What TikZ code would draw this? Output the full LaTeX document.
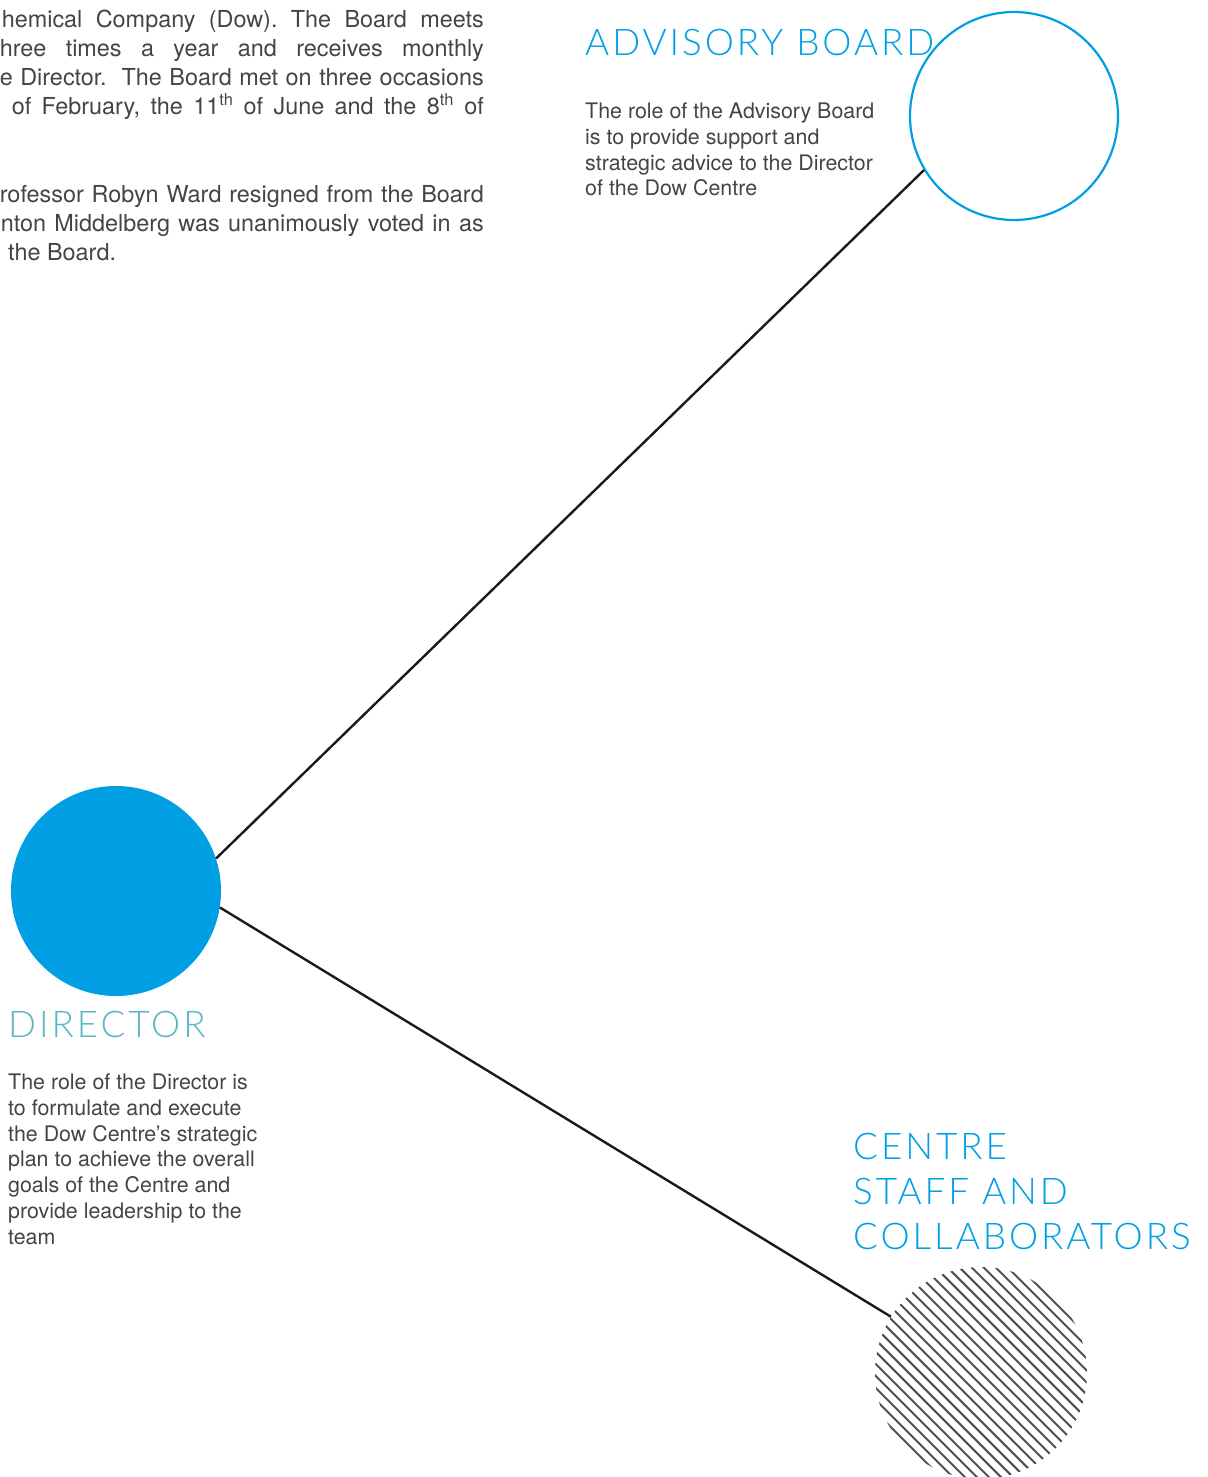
\documentclass[tikz,border=0pt]{standalone}
\usepackage{fontspec}
\newfontfamily\headfont{Lato Light}[LetterSpace=8]
\newfontfamily\bodyfont{TeX Gyre Heros}
\usetikzlibrary{calc}
\frenchspacing
\definecolor{dowblue}{HTML}{009FE3}
\definecolor{dirteal}{HTML}{5AB6C9}
\definecolor{txtgray}{HTML}{444444}
\definecolor{hatchgray}{HTML}{505050}
\definecolor{linedark}{HTML}{1A1A1A}
\tikzset{
  headtxt/.style={anchor=base west, inner sep=0pt, text=dowblue, font=\headfont\fontsize{36.8}{45}\selectfont},
  bodytxt/.style={anchor=base west, inner sep=0pt, text=txtgray, font=\bodyfont\fontsize{21.4}{25.7}\selectfont, align=left},
  paratxt/.style={anchor=base east, inner sep=0pt, text=txtgray, font=\bodyfont\fontsize{23.4}{29}\selectfont},
  conn/.style={draw=linedark, line width=2.4pt},
  hatchline/.style={draw=hatchgray, line width=2pt}
}
\begin{document}
\begin{tikzpicture}[x=1pt,y=-1pt]
\useasboundingbox (0,0) rectangle (1207,1477);
% top-left paragraph
\node[paratxt] (p1) at (484,28) {\makebox[482pt][s]{hemical Company (Dow). The Board meets}};
\node[paratxt] (p2) at (484,57) {\makebox[484pt][s]{hree times a year and receives monthly}};
\node[paratxt] (p3) at (484,86) {\makebox[484pt][s]{e Director.\ \ The Board met on three occasions}};
\node[paratxt] (p4) at (484,115) {\makebox[472pt][s]{of February, the 11\textsuperscript{th} of June and the 8\textsuperscript{th} of}};
\node[paratxt] (p5) at (484,202) {\makebox[484pt][s]{rofessor Robyn Ward resigned from the Board}};
\node[paratxt] (p6) at (484,231) {\makebox[483pt][s]{nton Middelberg was unanimously voted in as}};
\node[paratxt, anchor=base west] (p7) at (8,260) {the Board.};
% circles
\node[circle, fill=dowblue, minimum size=210pt, inner sep=0pt] (dir) at (116,891) {};
\node[circle, draw=dowblue, line width=2.2pt, minimum size=208pt, inner sep=0pt] (adv) at (1014,116) {};
\node[circle, minimum size=212pt, inner sep=0pt] (staff) at (981,1373) {};
\begin{scope}
  \clip (staff.center) circle[radius=106pt];
  \foreach \i in {-14,...,14} {
    \draw[hatchline] ($(staff.center)+(\i*8.5*0.7071,-\i*8.5*0.7071)+(-160,-160)$) -- ++(320,320);
  }
\end{scope}
% connectors
\draw[conn] (dir.18.8) -- (adv.211.6);
\draw[conn] (dir.-9.2) -- (staff.148);
% headings and texts
\node[headtxt] (advt) at (585,56) {ADVISORY BOARD};
\node[bodytxt, anchor=north west] (advb) at (585,103) {The role of the Advisory Board\\is to provide support and\\strategic advice to the Director\\of the Dow Centre};
\node[headtxt, text=dirteal] (dirt) at (8,1037) {DIRECTOR};
\node[bodytxt, anchor=north west] (dirb) at (8,1074) {The role of the Director is\\to formulate and execute\\the Dow Centre’s strategic\\plan to achieve the overall\\goals of the Centre and\\provide leadership to the\\team};
\node[headtxt, align=left, anchor=north west] (stafft) at (853,1133) {CENTRE\\STAFF AND\\COLLABORATORS};
\end{tikzpicture}
\end{document}
